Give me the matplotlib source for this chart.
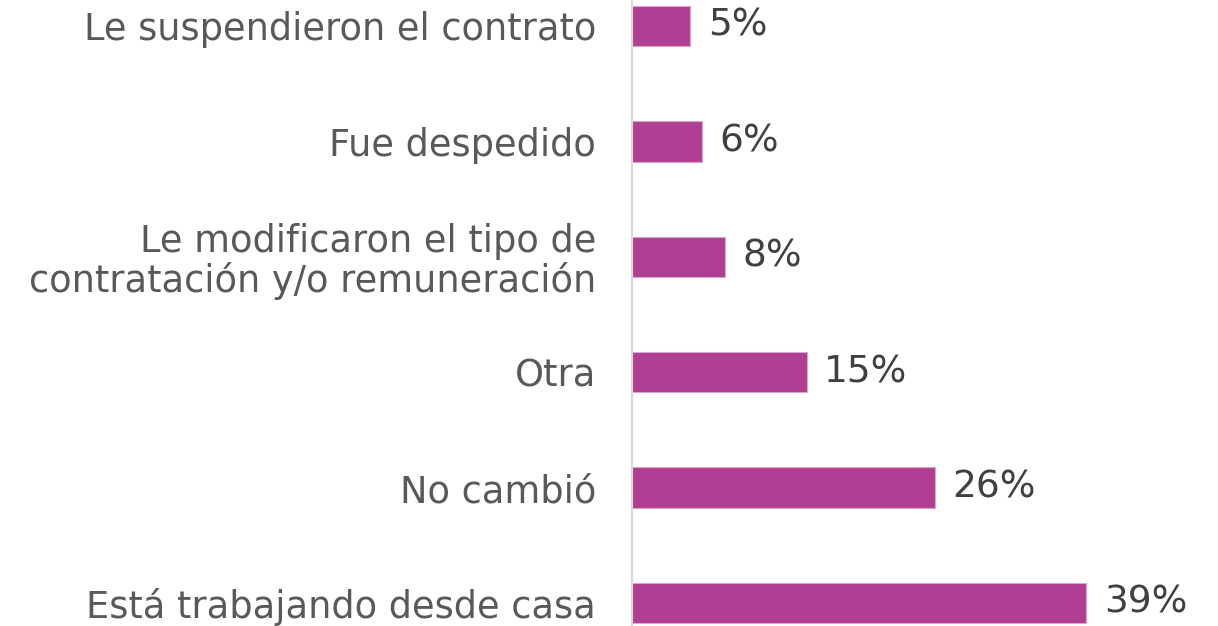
import numpy as np
import matplotlib.pyplot as plt

plt.rcParams['font.family'] = ['DejaVu Sans']

# Data (top to bottom as shown in the chart)
categories = [
    "Le suspendieron el contrato",
    "Fue despedido",
    "Le modificaron el tipo de\ncontratación y/o remuneración",
    "Otra",
    "No cambió",
    "Está trabajando desde casa",
]
values = [5, 6, 8, 15, 26, 39]
value_labels = ["5%", "6%", "8%", "15%", "26%", "39%"]

bar_color = "#B03E92"
label_color = "#595959"
value_color = "#404040"

fig = plt.figure(figsize=(12.18, 6.26), dpi=100)
ax = fig.add_axes([0.519, 0.0, 0.481, 1.0])

ypos = np.arange(len(categories))[::-1]
ax.barh(ypos, values, height=0.35, color=bar_color, edgecolor="#D9A6CC", linewidth=0.8)

for y, v, lab in zip(ypos, values, value_labels):
    ax.text(v + 1.5, y, lab, va="center", ha="left", fontsize=27, color=value_color)

ax.set_yticks(ypos)
ax.set_yticklabels(categories, fontsize=26.5, color=label_color, linespacing=1.05)
ax.tick_params(axis="y", length=0, pad=26)
ax.set_xticks([])
ax.set_xlim(0, 50.3)
ax.set_ylim(-0.2, 5.225)

for s in ["top", "right", "bottom"]:
    ax.spines[s].set_visible(False)
ax.spines["left"].set_color("#D9D9D9")
ax.spines["left"].set_linewidth(1.5)

fig.savefig("out.png", dpi=100)
